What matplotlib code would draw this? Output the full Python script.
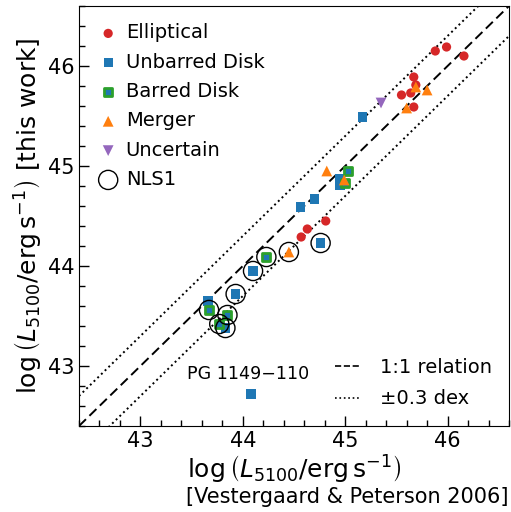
import matplotlib
matplotlib.use("Agg")
import matplotlib.pyplot as plt
from matplotlib.lines import Line2D
from matplotlib.ticker import MultipleLocator

# ---- data: (log L5100 VP06, log L5100 this work) ----
ell_x = [45.88, 45.99, 46.16, 45.67, 45.69, 45.55, 45.64, 45.67, 44.81, 44.63, 44.57]
ell_y = [46.15, 46.19, 46.10, 45.89, 45.81, 45.71, 45.73, 45.59, 44.45, 44.37, 44.29]

unb_x = [45.17, 44.70, 44.56, 44.95, 44.95, 44.76, 44.10, 43.93, 43.66, 43.83, 44.08]
unb_y = [45.49, 44.67, 44.59, 44.87, 44.81, 44.23, 43.95, 43.72, 43.65, 43.38, 42.72]

bar_x = [45.03, 45.00, 44.23, 43.67, 43.85, 43.77]
bar_y = [44.95, 44.83, 44.09, 43.56, 43.51, 43.42]

mer_x = [45.69, 45.80, 45.60, 44.82, 44.99, 44.45]
mer_y = [45.79, 45.76, 45.58, 44.95, 44.86, 44.14]

unc_x = [45.35]
unc_y = [45.63]

nls_x = [44.76, 44.45, 44.23, 44.10, 43.93, 43.67, 43.85, 43.77, 43.83]
nls_y = [44.23, 44.14, 44.09, 43.95, 43.72, 43.56, 43.51, 43.42, 43.38]

lim = [42.4, 46.6]
offset = 0.3
pg_label = "PG 1149\u2212110"
pg_pos = (44.05, 42.92)

fig = plt.figure(figsize=(5.11, 5.12), dpi=100)
ax = fig.add_axes([79/511, 1-426/512, 430/511, 420/512])

ax.plot(lim, lim, ls=(0, (5, 2.5)), color='black', lw=1.4, zorder=1)
ax.plot(lim, [v + offset for v in lim], ls=':', color='black', lw=1.4, zorder=1)
ax.plot(lim, [v - offset for v in lim], ls=':', color='black', lw=1.4, zorder=1)

h1 = ax.scatter(ell_x, ell_y, marker='o', s=44, color='tab:red', edgecolor='none', zorder=3, label='Elliptical')
h2 = ax.scatter(unb_x, unb_y, marker='s', s=44, color='tab:blue', edgecolor='none', zorder=3, label='Unbarred Disk')
h3 = ax.scatter(bar_x, bar_y, marker='s', s=40, facecolor='tab:blue', edgecolor='tab:green', linewidths=2, zorder=3, label='Barred Disk')
h4 = ax.scatter(mer_x, mer_y, marker='^', s=60, color='tab:orange', edgecolor='none', zorder=4, label='Merger')
h5 = ax.scatter(unc_x, unc_y, marker='v', s=60, color='tab:purple', edgecolor='none', zorder=3, label='Uncertain')
h6 = ax.scatter(nls_x, nls_y, marker='o', s=190, facecolor='none', edgecolor='black', linewidths=1.0, zorder=5, label='NLS1')

ax.text(pg_pos[0], pg_pos[1], pg_label, ha='center', va='center', fontsize=12.6)

leg1 = ax.legend(handles=[h1, h2, h3, h4, h5, h6], loc='upper left', frameon=False,
                 fontsize=14, handletextpad=0.3, labelspacing=0.53, borderaxespad=0.5,
                 scatterpoints=1, handlelength=1.2)
ax.add_artist(leg1)
lh1 = Line2D([], [], ls='--', color='black', lw=1.2)
lh2 = Line2D([], [], ls=':', color='black', lw=1.2)
ax.legend(handles=[lh1, lh2], labels=['1:1 relation', '\u00b10.3 dex'], loc='lower right',
          frameon=False, fontsize=14, handlelength=1.3, handletextpad=1.0, labelspacing=0.66)

ax.set_xlim(lim)
ax.set_ylim(lim)
ax.xaxis.set_major_locator(MultipleLocator(1))
ax.yaxis.set_major_locator(MultipleLocator(1))
ax.xaxis.set_minor_locator(MultipleLocator(0.2))
ax.yaxis.set_minor_locator(MultipleLocator(0.2))
ax.tick_params(which='both', direction='in', top=False, right=False, labelsize=15)
ax.tick_params(which='major', length=7, width=1)
ax.tick_params(which='minor', length=4, width=1)

lab = r'$\log\left(L_{5100}/\mathrm{erg\,s^{-1}}\right)$'
ax.set_xlabel(lab, fontsize=18, labelpad=2)
ax.text(1.0, -0.169, '[Vestergaard & Peterson 2006]', transform=ax.transAxes,
        ha='right', va='center', fontsize=15)
ax.set_ylabel(lab + ' [this work]', fontsize=18, labelpad=2)

fig.savefig('out.png', dpi=100)
